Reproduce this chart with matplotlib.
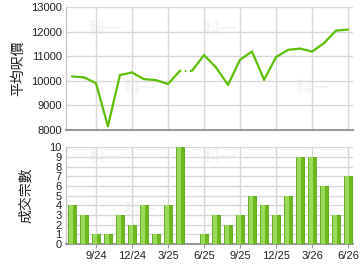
import matplotlib
matplotlib.use("Agg")
import matplotlib.pyplot as plt
import numpy as np

months = ["7/24", "8/24", "9/24", "10/24", "11/24", "12/24", "1/25", "2/25", "3/25",
          "4/25", "5/25", "6/25", "7/25", "8/25", "9/25", "10/25", "11/25", "12/25",
          "1/26", "2/26", "3/26", "4/26", "5/26", "6/26"]
price = [10180, 10140, 9910, 8150, 10235, 10340, 10070, 10030, 9870,
         10410, 10410, 11050, 10545, 9840, 10860, 11195, 10045, 10970,
         11265, 11315, 11195, 11540, 12050, 12090]
carried = [False] * 10 + [True] + [False] * 13
volume = [4, 3, 1, 1, 3, 2, 4, 1, 4, 10, 0, 1, 3, 2, 3, 5, 4, 3, 5, 9, 9, 6, 3, 7]
tick_labels = ["9/24", "12/24", "3/25", "6/25", "9/25", "12/25", "3/26", "6/26"]

plt.rcParams['font.family'] = ['Liberation Sans', 'Noto Sans CJK TC', 'DejaVu Sans']
cjk = ['Noto Sans CJK TC', 'DejaVu Sans']

fig = plt.figure(figsize=(3.6, 2.7), dpi=100)
ax1 = fig.add_axes([0.183, 0.519, 0.798, 0.454])
ax2 = fig.add_axes([0.183, 0.097, 0.798, 0.357])

x = np.arange(len(months))
tick_pos = [months.index(t) for t in tick_labels]
grid_c = '#d8d8d8'
line_c = '#5cbf06'

for ax in (ax1, ax2):
    ax.set_xlim(-0.5, 23.42)
    ax.set_xticks(tick_pos)
    ax.grid(True, color=grid_c, linewidth=1.0)
    ax.set_axisbelow(True)
    for s in ('top', 'right'):
        ax.spines[s].set_visible(False)
    ax.spines['left'].set_color('#c8c8c8')
    ax.spines['left'].set_linewidth(1.0)
    ax.spines['bottom'].set_color('#9a9a9a')
    ax.spines['bottom'].set_linewidth(1.5)
    ax.tick_params(axis='y', length=0, labelsize=8, colors='#222222', pad=3)
    ax.tick_params(axis='x', length=3, color='#9a9a9a', labelsize=8, colors='#222222', pad=2)

# watermarks
for ax, pts in ((ax1, [(0.08, 0.78), (0.48, 0.78), (0.2, 0.3), (0.8, 0.3)]),
                (ax2, [(0.08, 0.85), (0.48, 0.85), (0.2, 0.3), (0.8, 0.3)])):
    for px, py in pts:
        ax.text(px, py, '科一', transform=ax.transAxes, fontsize=12, color='#f4f4f4',
                family=cjk, fontweight='bold', zorder=0.5)

# price line
for i in range(len(x) - 1):
    if carried[i + 1]:
        ax1.plot(x[i:i + 2], price[i:i + 2], color=line_c, linewidth=1.6,
                 linestyle=(0, (0.6, 1.6)), dash_capstyle='butt', zorder=3)
    else:
        ax1.plot(x[i:i + 2], price[i:i + 2], color=line_c, linewidth=1.6, linestyle='-',
                 solid_capstyle='round', solid_joinstyle='round', zorder=3)
ax1.set_ylim(8000, 13000)
ax1.set_yticks(np.arange(8000, 13001, 1000))
ax1.tick_params(axis='x', labelbottom=False, length=0)
ax1.set_ylabel('平均呎價', family=cjk, fontsize=10, color='#222222', labelpad=4)

# volume bars
ax2.bar(x, volume, width=0.72, color='#6cba1c', edgecolor='#5aa812', linewidth=0.6, zorder=3)
ax2.bar(x - 0.08, volume, width=0.3, color='#9bd95a', linewidth=0, zorder=4)
ax2.set_ylim(0, 10)
ax2.set_yticks(np.arange(0, 11, 1))
ax2.set_xticklabels(tick_labels)
ax2.set_ylabel('成交宗數', family=cjk, fontsize=10, color='#222222', labelpad=12)

fig.savefig('out.png', dpi=100)
